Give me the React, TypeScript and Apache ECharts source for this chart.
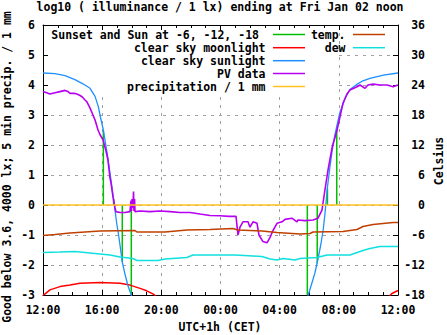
import React, { useEffect, useRef } from "react";
import * as echarts from "echarts";

// hours after 12:00 (Thu) -> log10(lux)
const sunlightHours = [0, 0.81, 1.49, 2.16, 2.7, 3.18, 3.52, 3.74, 3.92, 4.08, 4.33, 4.53, 4.77, 4.98, 5.14, 5.36, 5.54, 5.75, 5.97, 6.08,
  17.78, 17.93, 18.18, 18.39, 18.59, 18.79, 18.95, 19.06, 19.22, 19.4, 19.62, 19.85, 20.08, 20.42, 20.75, 21.21, 21.63, 22.1, 23.01, 24];
const sunlightValues = [4.4, 4.38, 4.31, 4.18, 4.04, 3.89, 3.62, 3.28, 2.85, 2.5, 1.75, 1.07, 0.2, -0.6, -1.1, -1.9, -2.3, -2.7, -3.0, -3.2,
  -3.2, -3.0, -2.6, -2.25, -1.8, -1.3, -0.8, -0.3, 0.55, 1.28, 2.06, 2.6, 3.1, 3.55, 3.85, 4.02, 4.14, 4.22, 4.33, 4.4];

const pvHours = [0, 0.2, 0.47, 0.81, 1.15, 1.49, 1.69, 1.83, 2.1, 2.3, 2.5, 2.64, 2.84, 2.97, 3.18, 3.38, 3.52, 3.72, 3.85, 4.06, 4.26, 4.39, 4.53, 4.6, 4.73, 4.87, 4.93,
  5.21, 5.54, 5.88, 5.95, 5.98, 6.02, 6.08, 6.12, 6.15, 6.19, 6.22, 6.56, 7.23, 7.91, 8.59, 9.26, 9.94, 10.61, 11.29, 11.97, 12.57, 13.05,
  13.18, 13.32, 13.52, 13.86, 13.99, 14.2, 14.47, 14.6, 14.87, 15.14, 15.35, 15.55, 15.82, 16.16, 16.36, 16.83, 17.17, 17.24, 17.71, 18.25,
  18.59, 18.86, 19.06, 19.27, 19.54, 19.88, 20.28, 20.55, 20.75, 21.23, 21.43, 21.77, 21.97, 22.31, 22.78, 23.26, 23.66, 24];
const pvValues = [3.78, 3.75, 3.7, 3.74, 3.78, 3.82, 3.78, 3.72, 3.72, 3.7, 3.65, 3.61, 3.5, 3.44, 3.23, 3.0, 2.83, 2.5, 2.35, 2.17, 1.8, 1.5, 0.9, 0.73, 0.28, -0.1, -0.22,
  -0.25, -0.25, -0.22, 0.15, -0.2, 0.2, -0.1, 0.45, -0.2, 0.2, -0.22, -0.2, -0.22, -0.2, -0.22, -0.25, -0.25, -0.3, -0.35, -0.36, -0.38, -0.38,
  -1.0, -0.74, -0.56, -0.56, -0.74, -0.56, -0.61, -1.0, -1.22, -1.26, -1.08, -0.85, -0.61, -0.56, -0.48, -0.44, -0.56, -0.5, -0.52, -0.5,
  -0.44, -0.17, 0.5, 1.17, 1.9, 2.5, 3.39, 3.7, 3.83, 3.94, 4.0, 3.89, 4.0, 4.03, 4.0, 4.0, 3.94, 4.0];

const moonHours = [0, 0.47, 1.15, 1.83, 2.5, 3.85, 5.21, 5.88, 6.56, 7.01, 7.46, 7.64, 7.7, 23.35, 23.39, 23.59, 24];
const moonValues = [-3.02, -2.83, -2.72, -2.67, -2.61, -2.58, -2.61, -2.67, -2.78, -2.86, -2.97, -3.05, NaN, NaN, -3.05, -2.95, -2.85];

// sunset / sun at -6, -12, -18 deg, then the same at dawn
const sunEventHours = [4.08, 4.77, 5.36, 5.97, 17.87, 18.54, 19.23, 19.86];
const sunEventTops = [2.5, 0.2, -1.9, -3.0, -3.0, -1.95, 0.55, 2.6];

const precipHours = [0, 24];
const precipValues = [0, 0];

// Celsius
const tempHours = [0, 0.81, 1.83, 2.84, 3.85, 6.22, 6.35, 8.25, 9.73, 11.29, 12.84, 13.18, 14.8, 15.82, 17.37, 18.05, 18.25, 20.28, 21.23, 21.63, 22.31, 23.66, 24];
const tempValues = [-6.1, -5.9, -5.6, -5.4, -5.2, -5.1, -5.4, -5.4, -5.0, -4.9, -4.7, -5.0, -5.2, -5.5, -5.8, -5.7, -5.4, -5.3, -4.9, -4.3, -3.9, -3.5, -3.5];
const dewHours = [0, 1.15, 2.16, 3.18, 3.85, 4.53, 5.21, 6.08, 6.35, 7.77, 8.25, 9.73, 10.14, 12.98, 14.8, 15.35, 15.82, 16.22, 17.04, 17.37, 18.52, 19.2, 20.75, 21.63, 22.1, 22.78, 24];
const dewValues = [-9.5, -9.4, -9.3, -9.6, -9.8, -10.0, -10.4, -10.7, -11.1, -11.1, -10.8, -10.5, -10.0, -10.0, -10.3, -10.8, -11.0, -10.7, -11.0, -10.7, -10.5, -10.0, -10.0, -9.1, -8.7, -8.3, -8.3];

const legendLeft = ["Sunset and Sun at -6, -12, -18", "clear sky moonlight", "clear sky sunlight", "PV data", "precipitation / 1 mm"];
const legendLeftColors = ["#00c000", "#ff0000", "#1e90ff", "#b800f0", "#ffc020"];
const legendRight = ["temp.", "dew"];
const legendRightColors = ["#c04000", "#10e0e0"];

const FONT = 'bold 11.5px "DejaVu Sans Mono", monospace';
const FAM = '"DejaVu Sans Mono", monospace';

const pairs = (xs: number[], ys: number[]) => xs.map((x, i) => [x, isNaN(ys[i]) ? "-" : ys[i]]);

function txt(text: string, x: number, y: number, align: string, rotation = 0) {
  return {
    type: "text",
    x,
    y,
    rotation,
    z: 100,
    style: { text, fill: "#000", font: FONT, align, verticalAlign: "middle", textAlign: align, textVerticalAlign: "middle" },
  };
}

export default function App() {
  const ref = useRef<HTMLDivElement>(null);
  useEffect(() => {
    const chart = echarts.init(ref.current!, null, { renderer: "svg" });
    const fmt = (v: number) => String((12 + v) % 24).padStart(2, "0") + ":00";
    const greenData: any[] = [];
    sunEventHours.forEach((h, i) => {
      greenData.push([h, 0], [h, sunEventTops[i]], [h, "-"]);
    });
    const lbl = { color: "#000", fontFamily: FAM, fontWeight: "bold", fontSize: 11.5 };
    const line = (name: string, data: any[], color: string, width: number, yAxisIndex = 0) => ({
      name,
      type: "line",
      data,
      yAxisIndex,
      showSymbol: false,
      symbol: "none",
      silent: true,
      connectNulls: false,
      lineStyle: { color, width },
      itemStyle: { color },
    });
    const graphic: any[] = [
      { type: "rect", z: 1, shape: { x: 48.5, y: 30.5, width: 290, height: 66.5 }, style: { fill: "#fff" } },
      txt("log10 ( illuminance / 1 lx) ending at Fri Jan 02 noon", 220, 7, "center"),
      txt("Good below 3.6, 4000 lx; 5 min precip. / 1 mm", 7, 167, "center", Math.PI / 2),
      txt("Celsius", 439, 161, "center", Math.PI / 2),
      txt("UTC+1h (CET)", 220, 327, "center"),
    ];
    const rowY = [35, 48.2, 61.2, 74, 87];
    legendLeft.forEach((t, i) => {
      graphic.push(txt(t, i === 0 ? 259 : 265.5, rowY[i], "right"));
      graphic.push({ type: "line", z: 100, shape: { x1: 273, y1: rowY[i] - 0.5, x2: 305, y2: rowY[i] - 0.5 }, style: { stroke: legendLeftColors[i], lineWidth: 1.5 } });
    });
    legendRight.forEach((t, i) => {
      graphic.push(txt(t, 345.5, rowY[i], "right"));
      graphic.push({ type: "line", z: 100, shape: { x1: 353, y1: rowY[i] - 0.5, x2: 385, y2: rowY[i] - 0.5 }, style: { stroke: legendRightColors[i], lineWidth: 1.5 } });
    });
    const dashed = { show: true, lineStyle: { color: "#a0a0a0", type: [3, 5], width: 1 } };
    chart.setOption({
      animation: false,
      backgroundColor: "#fff",
      grid: { left: 43, right: 49, top: 25, bottom: 40, containLabel: false },
      xAxis: [
        {
          type: "value", min: 0, max: 24, interval: 4, position: "bottom",
          axisLine: { show: true, onZero: false, lineStyle: { color: "#000", width: 1 } },
          axisTick: { show: true, inside: true, length: 5, lineStyle: { color: "#000" } },
          minorTick: { show: true, splitNumber: 4, length: 3, lineStyle: { color: "#000" } },
          splitLine: dashed,
          axisLabel: { ...lbl, margin: 9, formatter: fmt },
        },
        {
          type: "value", min: 0, max: 24, interval: 4, position: "top",
          axisLine: { show: true, onZero: false, lineStyle: { color: "#000", width: 1 } },
          axisTick: { show: true, inside: true, length: 5, lineStyle: { color: "#000" } },
          minorTick: { show: true, splitNumber: 4, length: 3, lineStyle: { color: "#000" } },
          splitLine: { show: false },
          axisLabel: { show: false },
        },
      ],
      yAxis: [
        {
          type: "value", min: -3, max: 6, interval: 1, position: "left",
          axisLine: { show: true, onZero: false, lineStyle: { color: "#000", width: 1 } },
          axisTick: { show: true, inside: true, length: 5, lineStyle: { color: "#000" } },
          splitLine: dashed,
          axisLabel: { ...lbl, margin: 8 },
        },
        {
          type: "value", min: -18, max: 36, interval: 6, position: "right",
          axisLine: { show: true, onZero: false, lineStyle: { color: "#000", width: 1 } },
          axisTick: { show: true, inside: true, length: 5, lineStyle: { color: "#000" } },
          splitLine: { show: false },
          axisLabel: { ...lbl, margin: 27, align: "right" },
        },
      ],
      series: [
        line("Sunset and Sun at -6, -12, -18", greenData, legendLeftColors[0], 1.5),
        line("clear sky moonlight", pairs(moonHours, moonValues), legendLeftColors[1], 1.5),
        line("clear sky sunlight", pairs(sunlightHours, sunlightValues), legendLeftColors[2], 1.3),
        line("PV data", pairs(pvHours, pvValues), legendLeftColors[3], 1.6),
        line("precipitation / 1 mm", pairs(precipHours, precipValues), legendLeftColors[4], 1.5),
        line("temp.", pairs(tempHours, tempValues), legendRightColors[0], 1.5, 1),
        line("dew", pairs(dewHours, dewValues), legendRightColors[1], 1.5, 1),
      ],
      graphic,
    });
    return () => chart.dispose();
  }, []);
  return <div ref={ref} style={{ position: "absolute", left: 0, top: 0, width: 447, height: 335 }} />;
}
